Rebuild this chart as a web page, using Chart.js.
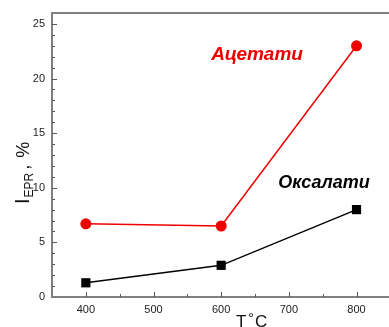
<!DOCTYPE html>
<html><head><meta charset="utf-8">
<script src="https://cdn.jsdelivr.net/npm/chart.js@4"></script>
<style>html,body{margin:0;padding:0;background:#fff;overflow:hidden}canvas{display:block}</style>
</head><body>
<canvas id="c" width="389" height="327"></canvas>
<script>
const temperatures = [400, 600, 800];
const acetates = [6.7, 6.5, 23.0];
const oxalates = [1.3, 2.9, 8.0];
const xTickValues = [400, 500, 600, 700, 800];
const xMinorTickValues = [450, 550, 650, 750];
const yTickValues = [0, 5, 10, 15, 20, 25];
const seriesNames = ['Ацетати', 'Оксалати'];

const FONT = '"Liberation Sans", Arial, sans-serif';
const AXIS = '#808080';

const labelAnchors = [
  {x: 653, y: 22.2, color: '#ee0000', size: 19},
  {x: 752, y: 10.4, color: '#000000', size: 18}
];

const decor = {
  id: 'decor',
  afterDraw(chart) {
    const ctx = chart.ctx, a = chart.chartArea;
    const xs = chart.scales.x, ys = chart.scales.y;
    ctx.save();
    // top frame line
    ctx.strokeStyle = AXIS; ctx.lineWidth = 2;
    ctx.beginPath(); ctx.moveTo(a.left - 1, a.top); ctx.lineTo(chart.width, a.top); ctx.stroke();
    // inward ticks
    ctx.lineWidth = 1; ctx.strokeStyle = '#555';
    ctx.beginPath();
    for (let v = 1; v <= 25; v++) {
      const y = Math.round(ys.getPixelForValue(v)) + 0.5;
      const len = (v % 5 === 0) ? 5 : 3;
      ctx.moveTo(a.left, y); ctx.lineTo(a.left + len, y);
    }
    xTickValues.forEach(v => {
      const x = Math.round(xs.getPixelForValue(v)) + 0.5;
      ctx.moveTo(x, a.bottom); ctx.lineTo(x, a.bottom - 5);
    });
    xMinorTickValues.forEach(v => {
      const x = Math.round(xs.getPixelForValue(v)) + 0.5;
      ctx.moveTo(x, a.bottom); ctx.lineTo(x, a.bottom - 3);
    });
    ctx.stroke();
    // series labels
    labelAnchors.forEach((p, i) => {
      ctx.font = 'italic bold ' + p.size + 'px ' + FONT;
      ctx.fillStyle = p.color; ctx.textAlign = 'center'; ctx.textBaseline = 'middle';
      ctx.fillText(seriesNames[i], xs.getPixelForValue(p.x), ys.getPixelForValue(p.y));
    });
    // y axis title: I_EPR , %
    ctx.save();
    ctx.translate(29, 204);
    ctx.rotate(-Math.PI / 2);
    ctx.fillStyle = '#111'; ctx.textAlign = 'left'; ctx.textBaseline = 'alphabetic';
    ctx.font = '20px ' + FONT;
    ctx.fillText('I', 0, 0);
    let off = ctx.measureText('I').width + 1;
    ctx.font = '12px ' + FONT;
    ctx.fillText('EPR', off, 4);
    off += ctx.measureText('EPR').width + 3;
    ctx.font = '18px ' + FONT;
    ctx.fillText(',', off, 0);
    off += ctx.measureText(', ').width + 2;
    ctx.fillText('%', off, 0);
    ctx.restore();
    // x axis title
    ctx.font = '17px ' + FONT; ctx.fillStyle = '#111';
    ctx.textAlign = 'left'; ctx.textBaseline = 'alphabetic';
    ctx.fillText('T', 236, 327);
    ctx.font = '15px ' + FONT;
    ctx.fillText('°', 248, 323);
    ctx.font = '17px ' + FONT;
    ctx.fillText('C', 255, 327);
    ctx.restore();
  }
};

new Chart(document.getElementById('c'), {
  type: 'line',
  data: {
    datasets: [
      {
        label: seriesNames[0],
        data: temperatures.map((t, i) => ({x: t, y: acetates[i]})),
        borderColor: '#ee0000', backgroundColor: '#ee0000', borderWidth: 1.5,
        pointStyle: 'circle', pointRadius: 5.5, pointBorderWidth: 0, tension: 0
      },
      {
        label: seriesNames[1],
        data: temperatures.map((t, i) => ({x: t, y: oxalates[i]})),
        borderColor: '#000', backgroundColor: '#000', borderWidth: 1.5,
        pointStyle: 'rect', pointRadius: 6.5, pointBorderWidth: 0, tension: 0
      }
    ]
  },
  options: {
    responsive: false, animation: false, devicePixelRatio: 1,
    layout: {autoPadding: false, padding: {top: 13, right: 0, left: 0, bottom: 0}},
    plugins: {legend: {display: false}, tooltip: {enabled: false}},
    scales: {
      x: {
        type: 'linear', min: 350, max: 848,
        afterBuildTicks: s => { s.ticks = xTickValues.map(v => ({value: v})); },
        afterFit: s => { s.height = 30; s.paddingRight = 0; s.paddingLeft = 0; },
        grid: {display: false, drawTicks: false},
        border: {display: true, color: AXIS, width: 2},
        ticks: {padding: 6, color: '#222', font: {size: 11, family: FONT}, maxRotation: 0}
      },
      y: {
        type: 'linear', min: 0, max: 26,
        afterBuildTicks: s => { s.ticks = yTickValues.map(v => ({value: v})); },
        afterFit: s => { s.width = 52; s.paddingTop = 0; s.paddingBottom = 0; },
        grid: {display: false, drawTicks: false},
        border: {display: true, color: AXIS, width: 2},
        ticks: {padding: 7, color: '#222', font: {size: 11, family: FONT}}
      }
    }
  },
  plugins: [decor]
});
</script>
</body></html>
